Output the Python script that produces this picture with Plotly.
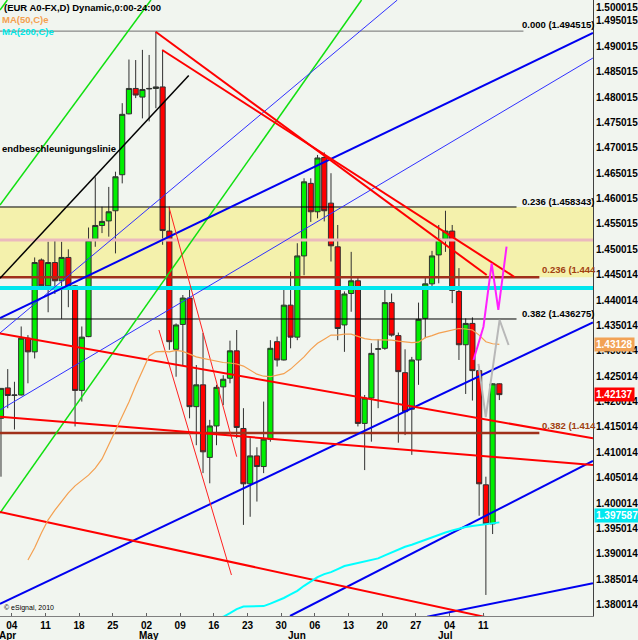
import plotly.graph_objects as go
import pandas as pd

# ---------------- data ----------------
dates = pd.bdate_range("2011-03-31", "2011-07-13")
day_idx = list(range(len(dates)))

opens = [1.4167, 1.4227, 1.4212, 1.4213, 1.4325, 1.4298, 1.4479, 1.4428, 1.4474, 1.4438,
         1.4484, 1.4428, 1.4222, 1.4328, 1.4520, 1.4547, 1.4556, 1.4576, 1.4647, 1.4767,
         1.4817, 1.4800, 1.4816, 1.4817, 1.4820, 1.4536, 1.4303, 1.4352, 1.4404, 1.4190,
         1.4233, 1.4090, 1.4152, 1.4229, 1.4246, 1.4300, 1.4147, 1.4038, 1.4093, 1.4072,
         1.4126, 1.4318, 1.4282, 1.4390, 1.4327, 1.4487, 1.4630, 1.4574, 1.4681, 1.4591,
         1.4505, 1.4351, 1.4413, 1.4438, 1.4157, 1.4207, 1.4303, 1.4305, 1.4395, 1.4330,
         1.4257, 1.4185, 1.4282, 1.4364, 1.4432, 1.4489, 1.4520, 1.4536, 1.4417, 1.4312,
         1.4354, 1.4261, 1.4036, 1.3959, 1.4235]
highs = [1.4226, 1.4264, 1.4239, 1.4348, 1.4331, 1.4484, 1.4482, 1.4515, 1.4517, 1.4515,
         1.4500, 1.4430, 1.4348, 1.4543, 1.4642, 1.4584, 1.4623, 1.4653, 1.4788, 1.4874,
         1.4873, 1.4893, 1.4883, 1.4929, 1.4893, 1.4584, 1.4354, 1.4410, 1.4420, 1.4272,
         1.4335, 1.4164, 1.4233, 1.4252, 1.4320, 1.4341, 1.4187, 1.4128, 1.4110, 1.4200,
         1.4321, 1.4328, 1.4420, 1.4456, 1.4512, 1.4640, 1.4640, 1.4686, 1.4691, 1.4650,
         1.4548, 1.4417, 1.4495, 1.4446, 1.4213, 1.4315, 1.4323, 1.4420, 1.4413, 1.4336,
         1.4303, 1.4288, 1.4395, 1.4446, 1.4497, 1.4548, 1.4576, 1.4548, 1.4463, 1.4364,
         1.4366, 1.4269, 1.4052, 1.4236, 1.4236]
lows = [1.4052, 1.4187, 1.4145, 1.4212, 1.4236, 1.4285, 1.4420, 1.4376, 1.4412, 1.4363,
        1.4386, 1.4151, 1.4200, 1.4327, 1.4505, 1.4532, 1.4525, 1.4492, 1.4630, 1.4766,
        1.4798, 1.4758, 1.4752, 1.4778, 1.4509, 1.4302, 1.4249, 1.4272, 1.4167, 1.4114,
        1.4059, 1.4039, 1.4114, 1.4193, 1.4236, 1.4128, 1.3957, 1.3973, 1.4003, 1.4059,
        1.4121, 1.4269, 1.4281, 1.4305, 1.4321, 1.4449, 1.4554, 1.4561, 1.4555, 1.4476,
        1.4321, 1.4298, 1.4377, 1.4151, 1.4065, 1.4121, 1.4187, 1.4302, 1.4328, 1.4119,
        1.4134, 1.4095, 1.4233, 1.4325, 1.4426, 1.4433, 1.4495, 1.4394, 1.4282, 1.4215,
        1.4202, 1.3975, 1.3819, 1.3939, 1.4203]
closes = [1.4226, 1.4212, 1.4213, 1.4325, 1.4298, 1.4474, 1.4428, 1.4474, 1.4438, 1.4484,
          1.4426, 1.4222, 1.4327, 1.4518, 1.4547, 1.4555, 1.4574, 1.4643, 1.4766, 1.4817,
          1.4804, 1.4815, 1.4817, 1.4820, 1.4537, 1.4318, 1.4351, 1.4404, 1.4190, 1.4233,
          1.4101, 1.4152, 1.4228, 1.4244, 1.4300, 1.4149, 1.4038, 1.4093, 1.4072, 1.4126,
          1.4305, 1.4282, 1.4390, 1.4327, 1.4487, 1.4633, 1.4574, 1.4680, 1.4576, 1.4507,
          1.4344, 1.4412, 1.4438, 1.4157, 1.4207, 1.4295, 1.4304, 1.4395, 1.4331, 1.4259,
          1.4180, 1.4282, 1.4362, 1.4432, 1.4487, 1.4520, 1.4536, 1.4419, 1.4312, 1.4354,
          1.4261, 1.4038, 1.3959, 1.4235, 1.42137]

ma50_start = 4
ma50 = [1.3888, 1.3912, 1.3941, 1.3967, 1.3986, 1.4004, 1.4020, 1.4034, 1.4045, 1.4055,
        1.4069, 1.4087, 1.4115, 1.4142, 1.4170, 1.4199, 1.4231, 1.4262, 1.4290, 1.4298,
        1.4299, 1.4298, 1.4301, 1.4299, 1.4294, 1.4288, 1.4285, 1.4282, 1.4279, 1.4277,
        1.4276, 1.4274, 1.4270, 1.4262, 1.4254, 1.4250, 1.4249, 1.4252, 1.4255, 1.4264,
        1.4276, 1.4288, 1.4303, 1.4315, 1.4323, 1.4331, 1.4331, 1.4333, 1.4333, 1.4328,
        1.4324, 1.4322, 1.4322, 1.4321, 1.4321, 1.4319, 1.4317, 1.4316, 1.4317, 1.4326,
        1.4330, 1.4335, 1.4338, 1.4341, 1.4344, 1.4343, 1.4341, 1.4331, 1.4318, 1.4314,
        1.43128]
ma200_start = 32
ma200 = [1.3772, 1.3776, 1.3783, 1.3791, 1.3796, 1.3796, 1.3797, 1.3797, 1.3802, 1.3807,
         1.3813, 1.3820, 1.3827, 1.3837, 1.3846, 1.3854, 1.3860, 1.3864, 1.3870, 1.3876,
         1.3879, 1.3882, 1.3885, 1.3888, 1.3891, 1.3897, 1.3903, 1.3908, 1.3914, 1.3918,
         1.3923, 1.3928, 1.3933, 1.3938, 1.3942, 1.3946, 1.3950, 1.3953, 1.3955, 1.3957,
         1.3959, 1.3961, 1.3962]

# trend lines: (start index, start price, end index, end price)
red_thick = [(-0.15, 1.4334, 87.9, 1.41275), (-0.15, 1.41702, 87.9, 1.40751),
             (-0.15, 1.39825, 87.9, 1.37295), (22.96, 1.49288, 72.12, 1.44494),
             (23.94, 1.48928, 76.25, 1.44455)]
red_thin = [(24.93, 1.45840, 35.0, 1.40914), (23.45, 1.43411, 34.22, 1.38583)]
blue_thick = [(-0.15, 1.43647, 87.9, 1.49263), (-0.15, 1.38012, 87.9, 1.43562),
              (42.92, 1.37775, 87.9, 1.40833), (63.27, 1.37761, 87.9, 1.38420)]
blue_thin = [(-0.15, 1.41834, 87.9, 1.48770), (-0.15, 1.43352, 58.85, 1.49913)]
green_lines = [(-0.15, 1.49716, 0.944, 1.49913), (-0.15, 1.45874, 22.27, 1.49913),
               (-0.15, 1.39805, 53.54, 1.49913)]
black_trend = [(-0.15, 1.44429, 27.88, 1.48427)]

magenta_idx = [70.16, 71.64, 72.86, 73.85, 75.07]
magenta_px = [1.42820, 1.43476, 1.44725, 1.43805, 1.45052]
grey_idx = [70.9, 71.98, 74.04, 75.37]
grey_px = [1.42741, 1.41696, 1.43608, 1.43115]

top_level = 1.4930
fib_black = [1.458343, 1.436275]
fib_black_lbl = ["0.236 (1.458343)", "0.382 (1.436275)"]
fib_brown = [1.4445, 1.4138]
fib_brown_lbl = ["0.236 (1.444", "0.382 (1.414"]
pink_level = 1.45184
cyan_level = 1.44238
band = (1.4445, 1.458343)

y_tick_text = ["1.380014", "1.385014", "1.390014", "1.395014", "1.400014", "1.405014",
               "1.410014", "1.415014", "1.420014", "1.425014", "1.430014", "1.435014",
               "1.440014", "1.445014", "1.450015", "1.455015", "1.460015", "1.465015",
               "1.470015", "1.475015", "1.480015", "1.485015", "1.490015", "1.495015",
               "1.500015"]

# ---------------- figure ----------------
XMIN, XMAX = -0.1475, 87.906
YMIN, YMAX = 1.37775, 1.49913
BG = "#F1F5EF"
FONT = "Liberation Sans"

fig = go.Figure()

def seg(x0, y0, x1, y1, color, width):
    fig.add_trace(go.Scatter(x=[x0, x1], y=[y0, y1], mode="lines",
                             line=dict(color=color, width=width), hoverinfo="skip"))

fig.add_shape(type="rect", xref="paper", x0=0, x1=1, yref="y", y0=band[0], y1=band[1],
              fillcolor="#F4F1AC", line_width=0, layer="below")

seg(XMIN, pink_level, XMAX, pink_level, "#EBB9BE", 3)
seg(XMIN, cyan_level, XMAX, cyan_level, "#00E6EE", 4)
seg(XMIN, top_level, 77.58, top_level, "#707070", 1)
for v in fib_black:
    seg(XMIN, v, 76.55, v, "#000000", 1)
for v in fib_brown:
    seg(XMIN, v, 79.94, v, "#A0301A", 2.5)

for l in green_lines:
    seg(*l, "#10E010", 1.5)
for l in black_trend:
    seg(*l, "#000000", 1.5)
for l in blue_thin:
    seg(*l, "#3030FF", 1)
for l in blue_thick:
    seg(*l, "#0000F0", 2)
for l in red_thin:
    seg(*l, "#FF2020", 1)
for l in red_thick:
    seg(*l, "#FF0000", 2)

fig.add_trace(go.Scatter(x=day_idx[ma50_start:], y=ma50, mode="lines",
                         line=dict(color="#F4A050", width=1.2), hoverinfo="skip"))
fig.add_trace(go.Scatter(x=day_idx[ma200_start:], y=ma200, mode="lines",
                         line=dict(color="#00FFFF", width=2), hoverinfo="skip"))

fig.add_trace(go.Candlestick(x=day_idx, open=opens, high=highs, low=lows, close=closes,
                             increasing=dict(fillcolor="#00F000", line=dict(color="#303030", width=1)),
                             decreasing=dict(fillcolor="#FF0000", line=dict(color="#303030", width=1)),
                             whiskerwidth=0, hoverinfo="skip"))

fig.add_trace(go.Scatter(x=grey_idx, y=grey_px, mode="lines",
                         line=dict(color="#B8B8B8", width=2), hoverinfo="skip"))
fig.add_trace(go.Scatter(x=magenta_idx, y=magenta_px, mode="lines",
                         line=dict(color="#FF20FF", width=2), hoverinfo="skip"))

bold = dict(family=FONT, size=10, color="#000000", weight="bold")

# level labels
for v, t in zip(fib_black, fib_black_lbl):
    fig.add_annotation(x=77.0, y=v, text=t, showarrow=False, xanchor="left", yanchor="bottom",
                       yshift=-2, font=dict(family=FONT, size=9.5, color="#000000", weight="bold"))
for v, t in zip(fib_brown, fib_brown_lbl):
    fig.add_annotation(x=80.0, y=v, text=t, showarrow=False, xanchor="left", yanchor="bottom",
                       yshift=0, font=dict(family=FONT, size=9.5, color="#A04010", weight="bold"))
fig.add_annotation(x=77.0, y=top_level, text="0.000 (1.494515)", showarrow=False,
                   xanchor="left", yanchor="bottom", yshift=-1,
                   font=dict(family=FONT, size=9.5, color="#000000", weight="bold"))

# header texts
fig.add_annotation(xref="paper", yref="paper", x=0.003, y=1, text="(EUR A0-FX,D) Dynamic,0:00-24:00",
                   showarrow=False, xanchor="left", yanchor="top",
                   font=dict(family=FONT, size=9.5, color="#000000", weight="bold"))
fig.add_annotation(xref="paper", yref="paper", x=0.0, y=1, yshift=-12, text="MA(50,C)e",
                   showarrow=False, xanchor="left", yanchor="top",
                   font=dict(family=FONT, size=9.5, color="#F4A050", weight="bold"))
fig.add_annotation(xref="paper", yref="paper", x=0.0, y=1, yshift=-24, text="MA(200,C)e",
                   showarrow=False, xanchor="left", yanchor="top",
                   font=dict(family=FONT, size=9.5, color="#00E8E8", weight="bold"))
fig.add_annotation(xref="paper", x=0.0, y=1.4698, text="endbeschleunigungslinie",
                   showarrow=False, xanchor="left", yanchor="middle",
                   font=dict(family=FONT, size=9.5, color="#000000", weight="bold"))
fig.add_annotation(xref="paper", yref="paper", x=0.003, y=0, yshift=2, text="© eSignal, 2010",
                   showarrow=False, xanchor="left", yanchor="bottom",
                   font=dict(family=FONT, size=7, color="#000000"))

# right axis value boxes
for v, t, c in [(ma50[-1], "1.43128", "#F2A255"), (closes[-1], "1.42137", "#FF0000"),
                (1.397587, "1.397587", "#00E8F0")]:
    fig.add_annotation(xref="paper", x=1, xshift=1, y=v, text=t, showarrow=False,
                       xanchor="left", yanchor="middle", bgcolor=c, borderpad=1,
                       font=dict(family=FONT, size=10, color="#FFFFFF", weight="bold"))
fig.add_annotation(xref="paper", yref="paper", x=1, xshift=1, y=1, text="1.500015",
                   showarrow=False, xanchor="left", yanchor="top", font=bold)

# x axis labels
monday_idx = [i for i, d in enumerate(dates) if d.weekday() == 0]
monday_lbl = [dates[i].strftime("%d") for i in monday_idx]
month_first = [i for i in range(1, len(dates)) if dates[i].month != dates[i - 1].month]
month_lbl = [dates[i].strftime("%b") for i in month_first]
for i, t in zip(month_first, month_lbl):
    fig.add_annotation(x=i, yref="paper", y=0, yshift=-19, text=t, showarrow=False,
                       xanchor="center", yanchor="middle", font=bold)

fig.update_layout(
    width=638, height=640, margin=dict(l=0, r=41, t=0, b=24),
    paper_bgcolor=BG, plot_bgcolor=BG, showlegend=False, hovermode=False,
    boxgap=0.15, boxgroupgap=0.1,
    xaxis=dict(range=[XMIN, XMAX], showgrid=False, zeroline=False, rangeslider=dict(visible=False),
               showline=True, linecolor="#808080", linewidth=1,
               tickvals=[i - 0.4 for i in monday_idx], ticktext=monday_lbl,
               ticks="inside", ticklen=3, tickcolor="#606060", tickfont=bold),
    yaxis=dict(range=[YMIN, YMAX], side="right", showgrid=False, zeroline=False,
               showline=True, linecolor="#404040", linewidth=1,
               tickvals=[float(t) for t in y_tick_text], ticktext=y_tick_text,
               ticks="", tickfont=bold),
)

fig.write_html("out.html", config={"displayModeBar": False},
               post_script="document.body.style.margin='0';")
